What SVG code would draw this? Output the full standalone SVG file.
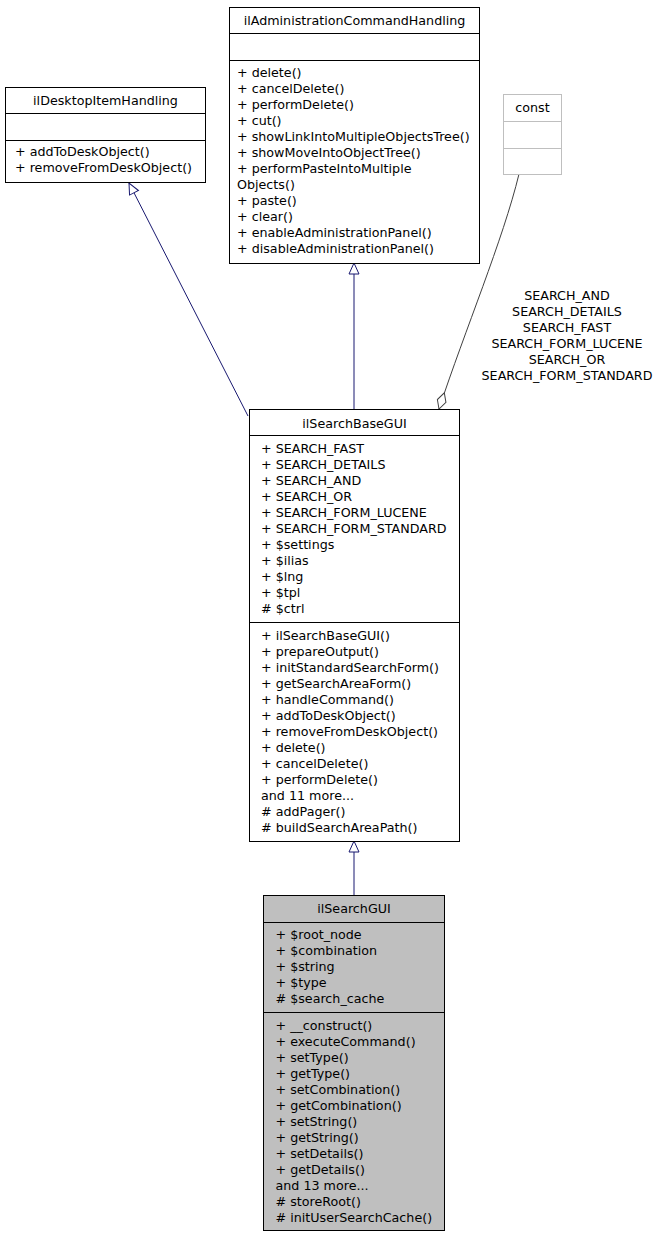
<svg xmlns="http://www.w3.org/2000/svg" width="660" height="1237" viewBox="0 0 660 1237">
<style>
text{font-family:"DejaVu Sans","Liberation Sans",sans-serif;font-size:12.7px;fill:#000}
.c{text-anchor:middle}
.box{fill:#fff;stroke:#000;stroke-width:1}
.sep{stroke:#000;stroke-width:1}
.gbox{fill:#fff;stroke:#bfbfbf;stroke-width:1}
.gsep{stroke:#bfbfbf;stroke-width:1}
.inh{fill:none;stroke:#191970;stroke-width:1;marker-end:url(#tri)}
.agg{fill:none;stroke:#404040;stroke-width:1;marker-end:url(#dia)}
</style>
<defs>
<marker id="tri" markerUnits="userSpaceOnUse" viewBox="-1 -1 13 12" refX="11" refY="5" markerWidth="13" markerHeight="12" orient="auto">
<path d="M0,0 L11,5 L0,10 Z" fill="#fff" stroke="#191970" stroke-width="1"/>
</marker>
<marker id="dia" markerUnits="userSpaceOnUse" viewBox="-1 -1 19 11" refX="17" refY="4.5" markerWidth="19" markerHeight="11" orient="auto">
<path d="M0,4.5 L8.5,0 L17,4.5 L8.5,9 Z" fill="#fff" stroke="#404040" stroke-width="1"/>
</marker>
</defs>
<g id="connectors">
<path class="inh" d="M248,416 L129,183"/>
<path class="inh" d="M354,409 L354,263"/>
<path class="inh" d="M354,895 L354,841"/>
<path class="agg" d="M519,174 C503,240 465,330 439,409"/>
<g class="c">
<text x="567" y="300" class="c">SEARCH_AND</text>
<text x="567" y="316" class="c">SEARCH_DETAILS</text>
<text x="567" y="332" class="c">SEARCH_FAST</text>
<text x="567" y="348" class="c">SEARCH_FORM_LUCENE</text>
<text x="567" y="364" class="c">SEARCH_OR</text>
<text x="567" y="380" class="c">SEARCH_FORM_STANDARD</text>
</g>
</g>
<g id="ilDesktopItemHandling">
<rect class="box" x="5.5" y="87.5" width="200" height="95"/>
<line class="sep" x1="5.5" y1="113.5" x2="205.5" y2="113.5"/>
<line class="sep" x1="5.5" y1="140.5" x2="205.5" y2="140.5"/>
<text x="105.5" y="104.5" class="c">ilDesktopItemHandling</text>
<text x="15" y="156">+ addToDeskObject()</text>
<text x="15" y="172">+ removeFromDeskObject()</text>
</g>
<g id="ilAdministrationCommandHandling">
<rect class="box" x="229.5" y="7.5" width="250" height="256"/>
<line class="sep" x1="229.5" y1="33.5" x2="479.5" y2="33.5"/>
<line class="sep" x1="229.5" y1="60.5" x2="479.5" y2="60.5"/>
<text x="354.5" y="24.5" class="c">ilAdministrationCommandHandling</text>
<text x="237" y="76.5">+ delete()</text>
<text x="237" y="92.5">+ cancelDelete()</text>
<text x="237" y="108.5">+ performDelete()</text>
<text x="237" y="124.5">+ cut()</text>
<text x="237" y="140.5">+ showLinkIntoMultipleObjectsTree()</text>
<text x="237" y="156.5">+ showMoveIntoObjectTree()</text>
<text x="237" y="172.5">+ performPasteIntoMultiple</text>
<text x="237" y="188.5">Objects()</text>
<text x="237" y="204.5">+ paste()</text>
<text x="237" y="220.5">+ clear()</text>
<text x="237" y="236.5">+ enableAdministrationPanel()</text>
<text x="237" y="252.5">+ disableAdministrationPanel()</text>
</g>
<g id="const">
<rect class="gbox" x="503.5" y="94.5" width="58" height="80"/>
<line class="gsep" x1="503.5" y1="121.5" x2="561.5" y2="121.5"/>
<line class="gsep" x1="503.5" y1="148.5" x2="561.5" y2="148.5"/>
<text x="532.5" y="112" class="c">const</text>
</g>
<g id="ilSearchBaseGUI">
<rect class="box" x="249.5" y="409.5" width="210" height="432"/>
<line class="sep" x1="249.5" y1="435.5" x2="459.5" y2="435.5"/>
<line class="sep" x1="249.5" y1="622.5" x2="459.5" y2="622.5"/>
<text x="354.5" y="428" class="c">ilSearchBaseGUI</text>
<text x="261" y="453">+ SEARCH_FAST</text>
<text x="261" y="469">+ SEARCH_DETAILS</text>
<text x="261" y="485">+ SEARCH_AND</text>
<text x="261" y="501">+ SEARCH_OR</text>
<text x="261" y="517">+ SEARCH_FORM_LUCENE</text>
<text x="261" y="533">+ SEARCH_FORM_STANDARD</text>
<text x="261" y="549">+ $settings</text>
<text x="261" y="565">+ $ilias</text>
<text x="261" y="581">+ $lng</text>
<text x="261" y="597">+ $tpl</text>
<text x="261" y="613"># $ctrl</text>
<text x="261" y="639.5">+ ilSearchBaseGUI()</text>
<text x="261" y="655.5">+ prepareOutput()</text>
<text x="261" y="671.5">+ initStandardSearchForm()</text>
<text x="261" y="687.5">+ getSearchAreaForm()</text>
<text x="261" y="703.5">+ handleCommand()</text>
<text x="261" y="719.5">+ addToDeskObject()</text>
<text x="261" y="735.5">+ removeFromDeskObject()</text>
<text x="261" y="751.5">+ delete()</text>
<text x="261" y="767.5">+ cancelDelete()</text>
<text x="261" y="783.5">+ performDelete()</text>
<text x="261" y="799.5">and 11 more...</text>
<text x="261" y="815.5"># addPager()</text>
<text x="261" y="831.5"># buildSearchAreaPath()</text>
</g>
<g id="ilSearchGUI">
<rect x="263.5" y="895.5" width="181" height="335" fill="#bfbfbf" stroke="#000" stroke-width="1"/>
<line class="sep" x1="263.5" y1="922.5" x2="444.5" y2="922.5"/>
<line class="sep" x1="263.5" y1="1012.5" x2="444.5" y2="1012.5"/>
<text x="354" y="913" class="c">ilSearchGUI</text>
<text x="275.5" y="939">+ $root_node</text>
<text x="275.5" y="955">+ $combination</text>
<text x="275.5" y="971">+ $string</text>
<text x="275.5" y="987">+ $type</text>
<text x="275.5" y="1003"># $search_cache</text>
<text x="275.5" y="1029.5">+ __construct()</text>
<text x="275.5" y="1045.5">+ executeCommand()</text>
<text x="275.5" y="1061.5">+ setType()</text>
<text x="275.5" y="1077.5">+ getType()</text>
<text x="275.5" y="1093.5">+ setCombination()</text>
<text x="275.5" y="1109.5">+ getCombination()</text>
<text x="275.5" y="1125.5">+ setString()</text>
<text x="275.5" y="1141.5">+ getString()</text>
<text x="275.5" y="1157.5">+ setDetails()</text>
<text x="275.5" y="1173.5">+ getDetails()</text>
<text x="275.5" y="1189.5">and 13 more...</text>
<text x="275.5" y="1205.5"># storeRoot()</text>
<text x="275.5" y="1221.5"># initUserSearchCache()</text>
</g>
</svg>
